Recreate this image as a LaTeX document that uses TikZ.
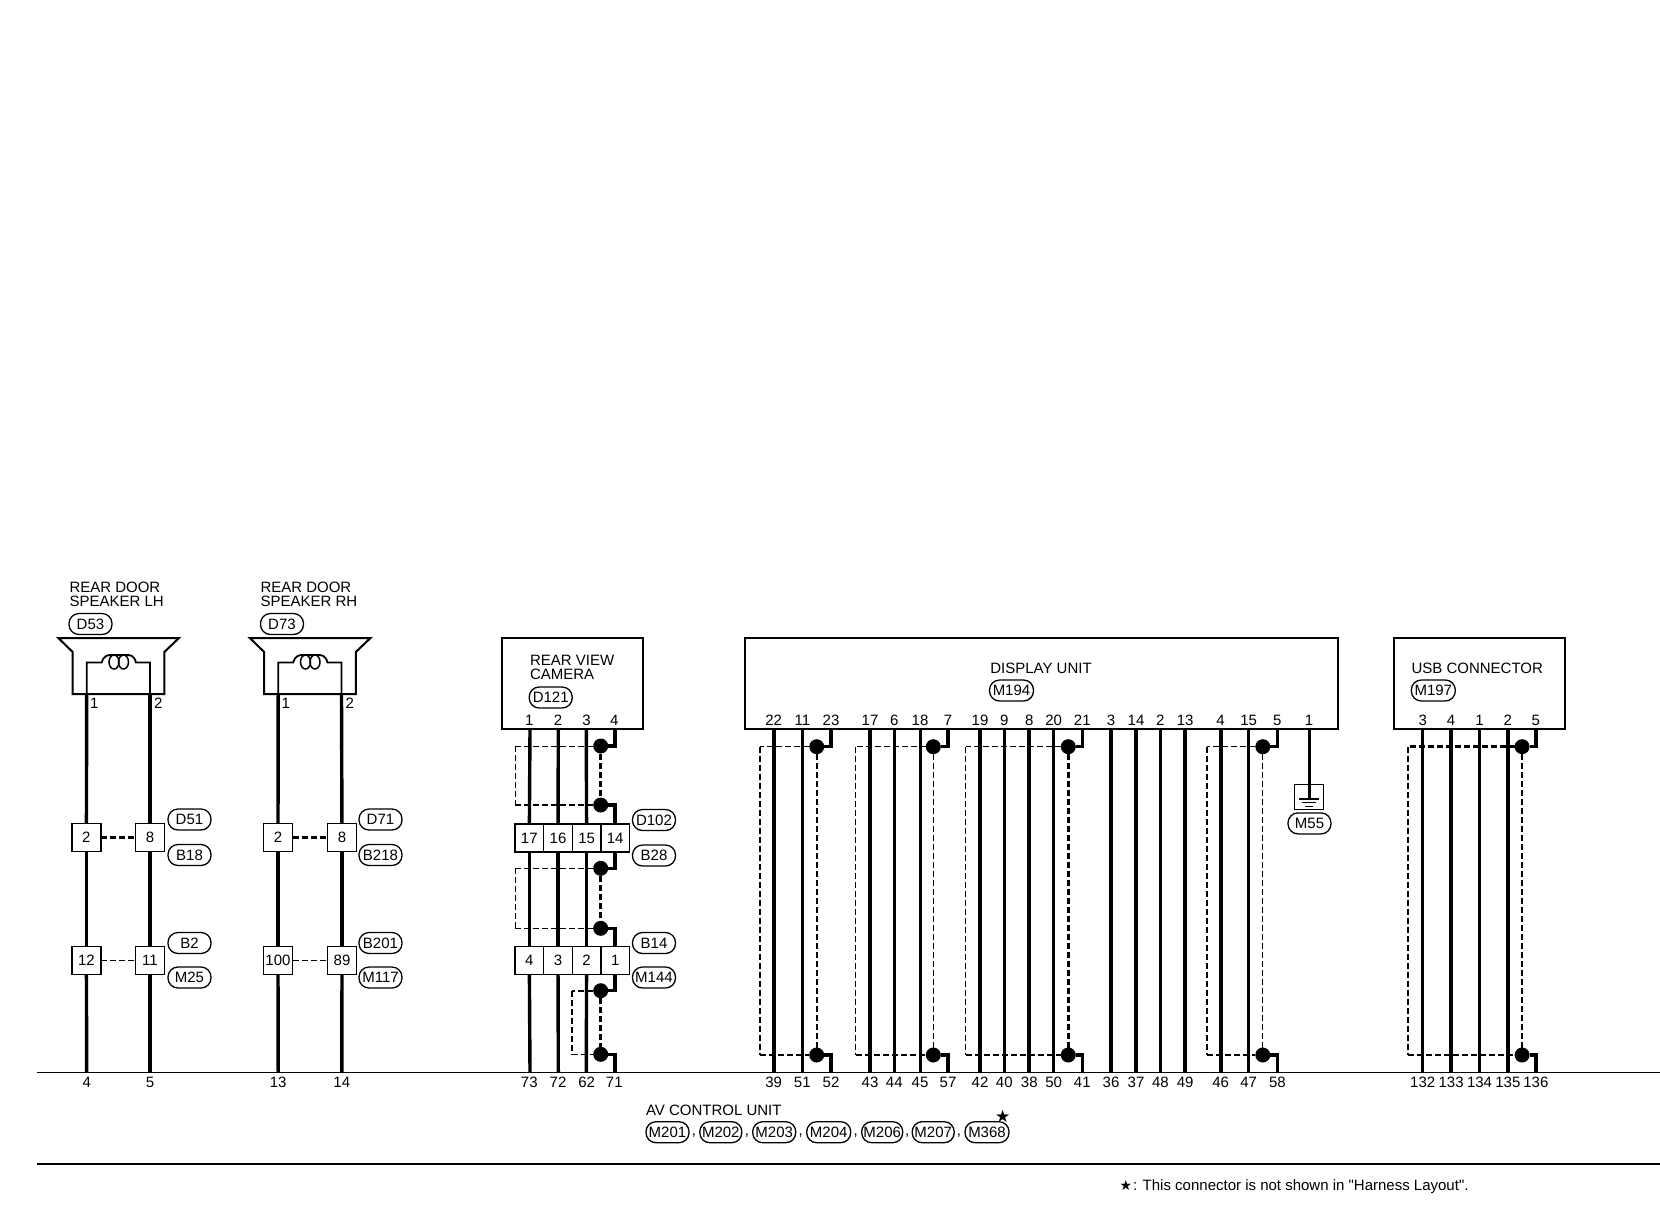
\documentclass[tikz,border=0pt]{standalone}
\usepackage{fontspec}
\setmainfont[Ligatures=TeXOff]{Liberation Sans}
\newfontfamily\symfont{DejaVu Sans}
\tikzset{
  every node/.style={inner sep=0pt,outer sep=0pt,text height=10.7pt,text depth=0pt,font=\fontsize{15}{14}\selectfont},
  freetext/.style={text height=,text depth=},
  unitbox/.style={draw=black,line width=2pt,fill=white},
  connbox/.style={draw=black,line width=1.5pt,fill=white,minimum width=29pt,minimum height=28pt},
  cell/.style={draw=black,line width=1.5pt,fill=white,minimum width=28.7pt,minimum height=28pt},
  ovalbox/.style={draw=black,line width=1.3pt,rounded corners=10pt,minimum width=43pt,minimum height=21pt,fill=white},
  wirethick/.style={line width=3.4pt,draw=black},
  stub/.style={line width=3.5pt,draw=black,line join=miter},
  dotnode/.style={circle,fill=black,minimum size=15pt},
  sthin/.style={line width=0.9pt,dash pattern=on 6pt off 3pt},
  smed/.style={line width=1.6pt,dash pattern=on 6pt off 3pt},
  sthick/.style={line width=2.5pt,dash pattern=on 6pt off 3pt},
  title/.style={freetext,anchor=west,align=left}
}
% name, x, y, text, width
\newcommand{\ovalat}[5]{\node[ovalbox,minimum width=#5pt] (#1) at (#2,#3) {#4};}
% name, leftx, dotx, pinx, topy, boty, stub-top y, stub-bottom y
\newcommand{\shieldparts}[8]{%
  \node[dotnode] (#1t) at (#3,#5) {};
  \node[dotnode] (#1b) at (#3,#6) {};
  \coordinate (#1tl) at (#2,#5);
  \coordinate (#1bl) at (#2,#6);
  \coordinate (#1pt) at (#4,#7);
  \coordinate (#1pb) at (#4,#8);
  \draw[stub] (#1pt) |- (#1t);
  \draw[stub] (#1pb) |- (#1b);
}
% name, top style, left style, bottom style, middle style
\newcommand{\shieldlines}[5]{%
  \draw[#2] (#1t) -- (#1tl);
  \draw[#3] (#1tl) -- (#1bl);
  \draw[#4] (#1bl) -- (#1b);
  \draw[#5] (#1t) -- (#1b);
}
% speaker symbol, drawn directly
\newcommand{\speakersym}[1]{%
  \begin{scope}[xshift=#1pt]
    \draw[line width=2pt,line join=miter] (72.7,652) -- (58.3,638) -- (179,638) -- (164.3,652) -- (164.3,694) -- (72.7,694) -- cycle;
    \draw[line width=1.8pt] (86.7,694) -- (86.7,662.5) -- (101.7,662.5)
      .. controls (104,655) and (108,655) .. (112,655) -- (126,655)
      .. controls (130,655) and (134,655) .. (136,662.5) -- (150,662.5) -- (150,694);
    \draw[line width=1.5pt] (114,662) ellipse (5pt and 7pt);
    \draw[line width=1.5pt] (123.5,662) ellipse (5pt and 7pt);
  \end{scope}
}
\begin{document}
\begin{tikzpicture}[x=1pt,y=-1pt]
\path[use as bounding box,fill=white] (0,0) rectangle (1660,1216);

% ---- baselines
\coordinate (baseL) at (37,1072.3);
\coordinate (baseR) at (1660,1072.3);
\coordinate (ruleL) at (37,1164);
\coordinate (ruleR) at (1660,1164);
\draw[line width=1pt] (baseL) -- (baseR);
\draw[line width=2pt] (ruleL) -- (ruleR);

% ---- speakers
\node[title] (tL) at (69.5,594) {REAR DOOR\\SPEAKER LH};
\node[title] (tR) at (260.5,594) {REAR DOOR\\SPEAKER RH};
\ovalat{oD53}{90.5}{624}{D53}{43}
\ovalat{oD73}{282}{624}{D73}{43}
\speakersym{0}
\speakersym{191.5}
\coordinate (s1) at (86.7,694);
\coordinate (s2) at (150,694);
\coordinate (s3) at (278.2,694);
\coordinate (s4) at (341.5,694);
\node (ps1) at (94.3,703) {1};
\node (ps2) at (158.3,703) {2};
\node (ps3) at (285.8,703) {1};
\node (ps4) at (349.8,703) {2};

\node[connbox] (a2) at (86.4,837.5) {2};
\node[connbox] (a8) at (150,837.5) {8};
\node[connbox] (b2) at (278,837.5) {2};
\node[connbox] (b8) at (342,837.5) {8};
\node[connbox] (a12) at (86.4,960.5) {12};
\node[connbox] (a11) at (150,960.5) {11};
\node[connbox] (b100) at (278,960.5) {100};
\node[connbox] (b89) at (342,960.5) {89};
\ovalat{oD51}{189.5}{819.5}{D51}{43}
\ovalat{oB18}{189.5}{855}{B18}{43}
\ovalat{oD71}{380.5}{819.5}{D71}{43}
\ovalat{oB218}{380.5}{855}{B218}{43}
\ovalat{oB2}{189.5}{943}{B2}{43}
\ovalat{oM25}{189.5}{977.5}{M25}{43}
\ovalat{oB201}{380.5}{943}{B201}{43}
\ovalat{oM117}{380.5}{977.5}{M117}{43}

\foreach \n/\x/\p/\q/\u/\v in {k4/86.7/s1/a2/a12/4,k5/150/s2/a8/a11/5,k13/278.2/s3/b2/b100/13,k14/341.8/s4/b8/b89/14}{
  \coordinate (\n e) at (\x,1072.3);
  \node (\n l) at (\x,1082) {\v};
  \draw[wirethick] (\p) -- (\q);
  \draw[wirethick] (\q) -- (\u);
  \draw[wirethick] (\u) -- (\n e);
}
\draw[sthick] (a2) -- (a8);
\draw[sthick] (b2) -- (b8);
\draw[smed] (a12) -- (a11);
\draw[smed] (b100) -- (b89);

% ---- rear view camera
\node[unitbox,minimum width=141.6pt,minimum height=91pt] (cam) at (572.5,683.2) {};
\node[title] (tcam) at (530,667) {REAR VIEW\\CAMERA};
\ovalat{oD121}{550.7}{697.5}{D121}{43}
\foreach \c/\x/\t/\u/\v/\l/\m/\r in {c17/529.3/17/c4/4/1/73/530,c16/558/16/c3/3/2/72/558.3,c15/586.6/15/c2/2/3/62/586.3}{
  \node[cell] (\c) at (\x,838) {\t};
  \node[cell] (\u) at (\x,960.5) {\v};
  \coordinate (\c p) at (\r,728.7);
  \coordinate (\c e) at (\r,1072.3);
  \node (\c lt) at (\x,720) {\l};
  \node (\c lb) at (\x,1082) {\m};
  \draw[wirethick] (\c p) -- (\c);
  \draw[wirethick] (\c) -- (\u);
  \draw[wirethick] (\u) -- (\c e);
}
\node[cell] (c14) at (615.2,838) {14};
\node[cell] (c1) at (615.2,960.5) {1};
\node (c4lt) at (614.3,720) {4};
\node (c71) at (614.3,1082) {71};
\ovalat{oD102}{654}{820}{D102}{43}
\ovalat{oB28}{654}{855.5}{B28}{43}
\ovalat{oB14}{654}{943}{B14}{43}
\ovalat{oM144}{654}{977.5}{M144}{43}

\shieldparts{Ca}{515.3}{600.7}{615}{746}{805}{728.7}{824}
\shieldparts{Cb}{515.3}{600.7}{615}{868.3}{928.3}{852}{946.5}
\shieldparts{Cc}{571.7}{600.7}{615}{990.7}{1054.3}{974.5}{1072.3}
\shieldlines{Ca}{sthin}{sthin}{smed}{sthick}
\shieldlines{Cb}{smed}{sthin}{sthin}{sthick}
\shieldlines{Cc}{smed}{smed}{smed}{sthick}

% ---- display unit
\node[unitbox,minimum width=592.6pt,minimum height=91pt] (disp) at (1041.6,683.2) {};
\node[anchor=west] (tdisp) at (990.3,668) {DISPLAY UNIT};
\ovalat{oM194}{1011.5}{690.5}{M194}{44}
\foreach \n/\x/\w/\t/\b in {
  22/773.7/3.8/22/39, 11/802.3/3/11/51, 17/870/3.8/17/43, 6/894.3/3/6/44,
  18/920/3/18/45, 19/980/3.5/19/42, 9/1004.3/3/9/40, 8/1029.3/4.3/8/38,
  20/1053.7/3/20/50, 3/1111/3.4/3/36, 14/1136/3.4/14/37, 2/1160.4/3/2/48,
  13/1185.1/3.4/13/49, 4/1220.6/3.8/4/46, 15/1248.6/3/15/47}{
  \coordinate (dt\n) at (\x,728.7);
  \coordinate (db\n) at (\x,1072.3);
  \node (dl\n) at (\x,720) {\t};
  \node (dm\n) at (\x,1082) {\b};
  \draw[draw=black,line width=\w pt] (dt\n) -- (db\n);
}
\foreach \n/\x/\t/\b in {23/831/23/52, 7/948/7/57, 21/1082.3/21/41, 5/1277.4/5/58}{
  \node (dl\n) at (\x,720) {\t};
  \node (dm\n) at (\x,1082) {\b};
}
\shieldparts{Ga}{760}{816.7}{831}{746.7}{1055}{728.7}{1072.3}
\shieldparts{Gb}{855.7}{933.3}{948}{746.7}{1055}{728.7}{1072.3}
\shieldparts{Gc}{965.7}{1068.3}{1082.3}{746.7}{1055}{728.7}{1072.3}
\shieldparts{Gd}{1207}{1262.8}{1277.4}{746.7}{1055}{728.7}{1072.3}
\shieldlines{Ga}{sthin}{sthick}{sthick}{smed}
\shieldlines{Gb}{sthin}{sthin}{sthick}{sthin}
\shieldlines{Gc}{sthin}{sthin}{sthick}{sthick}
\shieldlines{Gd}{sthin}{smed}{smed}{sthin}

% ---- ground
\node (dl1) at (1309.1,720) {1};
\coordinate (gp) at (1309.1,728.7);
\node[draw=black,line width=1.5pt,minimum width=29pt,minimum height=24.6pt] (gnd) at (1309.1,797) {};
\coordinate (gb) at (1309.1,799);
\draw[line width=3pt] (gp) -- (gb);
\coordinate (g1l) at (1299,799);
\coordinate (g1r) at (1319.2,799);
\coordinate (g2l) at (1302.4,802.8);
\coordinate (g2r) at (1315.8,802.8);
\coordinate (g3l) at (1305.4,806.3);
\coordinate (g3r) at (1312.8,806.3);
\draw[line width=1.5pt] (g1l) -- (g1r);
\draw[line width=1pt] (g2l) -- (g2r);
\draw[line width=1pt] (g3l) -- (g3r);
\ovalat{oM55}{1309.5}{823.4}{M55}{43}

% ---- USB connector
\node[unitbox,minimum width=171pt,minimum height=91pt] (usb) at (1479.5,683.2) {};
\node[anchor=west] (tusb) at (1411.5,668) {USB CONNECTOR};
\ovalat{oM197}{1433.3}{690.5}{M197}{44}
\foreach \n/\x/\t/\b in {a/1422.7/3/132, b/1451.1/4/133, c/1479.5/1/134, d/1507.9/2/135}{
  \coordinate (ut\n) at (\x,728.7);
  \coordinate (ub\n) at (\x,1072.3);
  \node (ul\n) at (\x,720) {\t};
  \node (um\n) at (\x,1082) {\b};
  \draw[wirethick] (ut\n) -- (ub\n);
}
\node (ule) at (1535.9,720) {5};
\node (ume) at (1535.9,1082) {136};
\shieldparts{Gu}{1408.2}{1522.1}{1535.9}{746.7}{1055}{728.7}{1072.3}
\shieldlines{Gu}{sthick}{sthick}{sthick}{smed}

% ---- AV control unit
\node[anchor=west] (tav) at (646,1110) {AV CONTROL UNIT};
\ovalat{o201}{667.5}{1132.2}{M201}{43}
\node (k1) at (694,1130) {,};
\ovalat{o202}{720.8}{1132.2}{M202}{42}
\node (k2) at (747,1130) {,};
\ovalat{o203}{774.2}{1132.2}{M203}{43}
\node (k3) at (800.7,1130) {,};
\ovalat{o204}{828.7}{1132.2}{M204}{44}
\node (k4) at (855.7,1130) {,};
\ovalat{o206}{882.2}{1132.2}{M206}{41}
\node (k5) at (907.3,1130) {,};
\ovalat{o207}{933.2}{1132.2}{M207}{42}
\node (k6) at (959,1130) {,};
\ovalat{o368}{987}{1132.2}{M368}{44}
\node[freetext,font=\symfont\fontsize{17}{17}\selectfont] (star) at (1002.7,1116) {★};

% ---- footnote
\node[freetext,font=\symfont\fontsize{14}{14}\selectfont] (fstar) at (1126,1185) {★};
\node[anchor=west] (fnote) at (1133,1185) {: This connector is not shown in "Harness Layout".};
\end{tikzpicture}
\end{document}
